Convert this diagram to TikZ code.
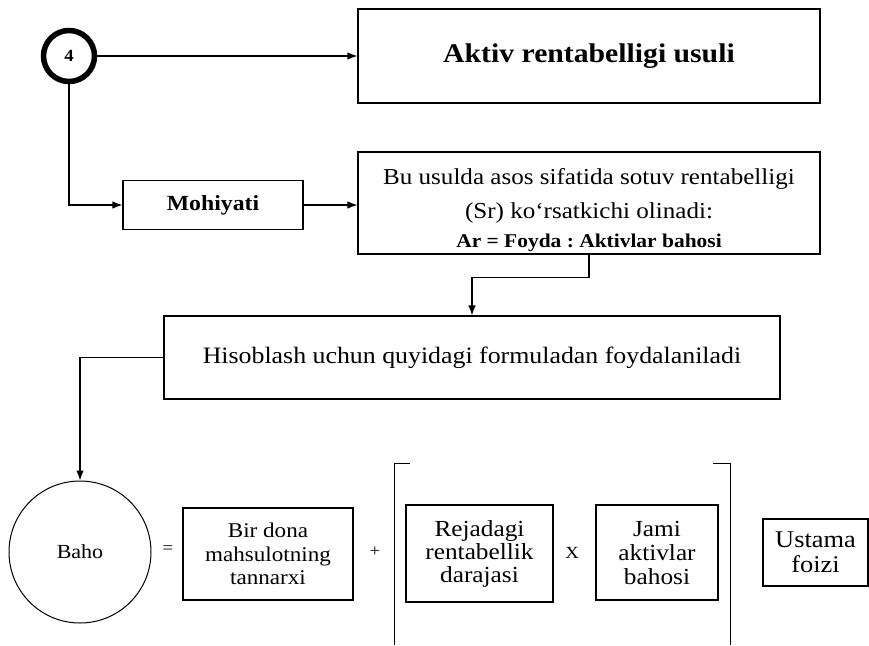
\documentclass[tikz,border=0pt]{standalone}
\usepackage{fontspec}
\setmainfont[FakeStretch=1.1]{Liberation Serif}
\usetikzlibrary{arrows.meta}
\frenchspacing
\begin{document}
\begin{tikzpicture}[x=1pt,y=-1pt,
  box/.style={draw, line width=1.1pt, inner sep=0pt, align=center},
  conn/.style={line width=1.2pt},
  arr/.style={conn, -{Latex[length=10pt,width=7.5pt]}},
  fs/.style={font=\fontsize{#1}{24}\selectfont}]
\useasboundingbox (0,0) rectangle (869,645);
% top row
\node[draw, circle, line width=5.5pt, minimum size=51pt, inner sep=0pt, font=\fontsize{17}{18}\selectfont\bfseries] (c4) at (69,56) {4};
\node[box, minimum width=462pt, minimum height=94pt, font=\fontsize{27}{30}\selectfont\bfseries] (top) at (589,56) {Aktiv rentabelligi usuli};
\draw[arr] (c4.east) -- (top.west);
% second row
\node[box, minimum width=180pt, minimum height=49pt, font=\fontsize{21.6}{24}\selectfont\bfseries] (moh) at (213,205) {Mohiyati};
\node[box, minimum width=462pt, minimum height=102pt] (bu) at (589,203) {};
\node[align=center, inner sep=0pt, font=\fontsize{22.8}{34}\selectfont] (butext) at ([yshift=-7pt]bu.center)
  {Bu usulda asos sifatida sotuv rentabelligi\\ (Sr) ko‘rsatkichi olinadi:\\[-5pt] {\fontsize{19.5}{22}\selectfont\bfseries Ar = Foyda : Aktivlar bahosi}};
\draw[arr] (c4.south) |- (moh.west);
\draw[arr] (moh.east) -- (moh.east -| bu.west);
% third row
\node[box, minimum width=616pt, minimum height=83pt, font=\fontsize{23.5}{27}\selectfont] (hisob) at (472,357.5) {Hisoblash uchun quyidagi formuladan foydalaniladi};
\draw[arr] (bu.south) -- ++(0,23) -| (hisob.north);
% formula row
\node[draw, circle, line width=1pt, minimum size=142pt, inner sep=0pt, fs=20] (baho) at (80,552) {Baho};
\draw[arr] (hisob.west) -| (baho.north);
\node[fs=17] (eq) at (168,550) {=};
\node[box, minimum width=170pt, minimum height=92pt, font=\fontsize{21}{23.5}\selectfont] (bir) at (268,554) {Bir dona\\ mahsulotning\\ tannarxi};
\node[fs=17] (plus) at (375,552) {+};
\node[box, minimum width=147pt, minimum height=97pt, font=\fontsize{23}{23}\selectfont] (rej) at (479.5,553.5) {Rejadagi\\ rentabellik\\ darajasi};
\node[fs=17] (x) at (572,553) {X};
\node[box, minimum width=122pt, minimum height=95pt, font=\fontsize{23}{24}\selectfont] (jami) at (657,552.5) {Jami\\ aktivlar\\ bahosi};
\node[box, minimum width=105pt, minimum height=67pt, font=\fontsize{24}{25}\selectfont] (ust) at (815.5,552.5) {Ustama\\ foizi};
% brackets
\draw[line width=1pt] (410,463) -- (394,463) -- (394,645);
\draw[line width=1pt] (713,463) -- (730,463) -- (730,645);
\end{tikzpicture}
\end{document}
